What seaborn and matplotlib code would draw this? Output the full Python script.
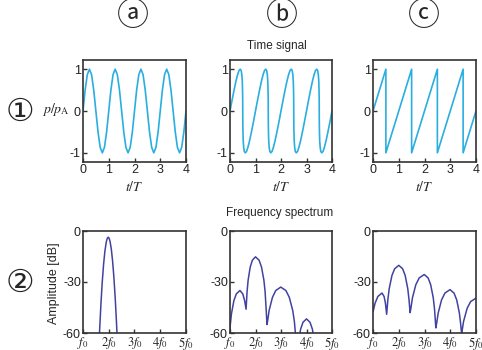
import numpy as np
import matplotlib
matplotlib.use("Agg")
import matplotlib.pyplot as plt
import seaborn as sns

# Time signals (t in periods, p/pA)
SINE_T = [0, .083, .167, .25, .333, .417, .5, .583, .667, .75, .833, .917,
          1, 1.083, 1.167, 1.25, 1.333, 1.417, 1.5, 1.583, 1.667, 1.75, 1.833, 1.917,
          2, 2.083, 2.167, 2.25, 2.333, 2.417, 2.5, 2.583, 2.667, 2.75, 2.833, 2.917,
          3, 3.083, 3.167, 3.25, 3.333, 3.417, 3.5, 3.583, 3.667, 3.75, 3.833, 3.917,
          4]
SINE_P = [0, .5, .87, 1, .87, .5, 0, -.5, -.87, -1, -.87, -.5,
          0, .5, .87, 1, .87, .5, 0, -.5, -.87, -1, -.87, -.5,
          0, .5, .87, 1, .87, .5, 0, -.5, -.87, -1, -.87, -.5,
          0, .5, .87, 1, .87, .5, 0, -.5, -.87, -1, -.87, -.5,
          0]

STEEP_T = [0, .081, .159, .232, .298, .354, .401, .438, .464, .482, .492, .498,
           .5, .502, .508, .518, .536, .562, .599, .646, .702, .768, .841, .919,
           1, 1.081, 1.159, 1.232, 1.298, 1.354, 1.401, 1.438, 1.464, 1.482, 1.492, 1.498,
           1.5, 1.502, 1.508, 1.518, 1.536, 1.562, 1.599, 1.646, 1.702, 1.768, 1.841, 1.919,
           2, 2.081, 2.159, 2.232, 2.298, 2.354, 2.401, 2.438, 2.464, 2.482, 2.492, 2.498,
           2.5, 2.502, 2.508, 2.518, 2.536, 2.562, 2.599, 2.646, 2.702, 2.768, 2.841, 2.919,
           3, 3.081, 3.159, 3.232, 3.298, 3.354, 3.401, 3.438, 3.464, 3.482, 3.492, 3.498,
           3.5, 3.502, 3.508, 3.518, 3.536, 3.562, 3.599, 3.646, 3.702, 3.768, 3.841, 3.919,
           4]
STEEP_P = [0, .26, .5, .71, .87, .97, 1, .97, .87, .71, .5, .26,
           0, -.26, -.5, -.71, -.87, -.97, -1, -.97, -.87, -.71, -.5, -.26,
           0, .26, .5, .71, .87, .97, 1, .97, .87, .71, .5, .26,
           0, -.26, -.5, -.71, -.87, -.97, -1, -.97, -.87, -.71, -.5, -.26,
           0, .26, .5, .71, .87, .97, 1, .97, .87, .71, .5, .26,
           0, -.26, -.5, -.71, -.87, -.97, -1, -.97, -.87, -.71, -.5, -.26,
           0, .26, .5, .71, .87, .97, 1, .97, .87, .71, .5, .26,
           0, -.26, -.5, -.71, -.87, -.97, -1, -.97, -.87, -.71, -.5, -.26,
           0]

SAW_T = [0, .5, .5, 1.5, 1.5, 2.5, 2.5, 3.5, 3.5, 4]
SAW_P = [0, 1, -1, 1, -1, 1, -1, 1, -1, 0]

# Spectra (f in units of f0, amplitude in dB)
SPEC_A_F = [1.60, 1.64, 1.70, 1.75, 1.80, 1.85, 1.90, 1.925, 1.95, 1.98, 2.00,
            2.025, 2.05, 2.10, 2.15, 2.20, 2.25, 2.30, 2.33, 2.36]
SPEC_A_DB = [-74, -60, -41.9, -29.5, -19.5, -11.9, -6.8, -5.2, -4.1, -3.7, -3.9,
             -4.7, -6.1, -10.7, -17.8, -27.3, -39.2, -53.6, -63.4, -73]

SPEC_B_F = [1.00, 1.01, 1.057, 1.152, 1.247, 1.39, 1.501, 1.575, 1.63,
            1.67, 1.711, 1.793, 1.876, 2.0, 2.141, 2.235, 2.329, 2.376, 2.423, 2.45,
            2.47, 2.535, 2.665, 2.795, 2.99, 3.191, 3.325, 3.459, 3.526, 3.593,
            3.678, 3.77, 3.862, 4.0, 4.138, 4.23, 4.322]
SPEC_B_DB = [-58, -55.4, -48.7, -41, -37, -35, -37, -41, -46,
             -35.6, -28.9, -21.2, -17.2, -15.2, -17.2, -21.2, -28.9, -35.6, -47.4, -55,
             -53.4, -46.7, -39, -35, -33, -35, -39, -46.7, -53.4, -65.2,
             -65.4, -57.7, -53.7, -51.7, -53.7, -57.7, -65.4]

SPEC_C_F = [1.00, 1.08, 1.188, 1.35, 1.43, 1.483, 1.53,
            1.576, 1.629, 1.735, 1.841, 2.0, 2.15, 2.25, 2.35, 2.40, 2.44,
            2.466, 2.532, 2.663, 2.794, 2.99, 3.14, 3.24, 3.34, 3.39, 3.44,
            3.466, 3.532, 3.663, 3.794, 3.99, 4.146, 4.25, 4.354, 4.406, 4.44,
            4.448, 4.517, 4.655, 4.793, 5.0]
SPEC_C_DB = [-47.6, -42.5, -38.5, -36.5, -38.5, -42.5, -49,
             -40.6, -33.9, -26.2, -22.2, -20.2, -22.2, -26.2, -33.9, -40.6, -48,
             -46, -39.3, -31.6, -27.6, -25.6, -27.6, -31.6, -39.3, -46, -57,
             -54.9, -48.2, -40.5, -36.5, -34.5, -36.5, -40.5, -48.2, -54.9, -60.5,
             -59.9, -53.2, -45.5, -41.5, -39.5]

TIME_TICKS = [0, 1, 2, 3, 4]
AMP_TICKS = [-1, 0, 1]
FREQ_TICKS = [1, 2, 3, 4, 5]
FREQ_LABELS = [r"$f_0$", r"$2f_0$", r"$3f_0$", r"$4f_0$", r"$5f_0$"]
DB_TICKS = [-60, -30, 0]

COLUMN_MARKS = ["ⓐ", "ⓑ", "ⓒ"]
ROW_MARKS = ["①", "②"]

TIME_COLOR = "#2aaee0"
SPEC_COLOR = "#4242a0"
FRAME_COLOR = "#333333"

sns.set_theme(style="ticks")
plt.rcParams["font.family"] = ["Liberation Sans", "DejaVu Sans", "Noto Sans CJK JP"]
plt.rcParams["mathtext.fontset"] = "stix"

W, H = 482, 350
fig = plt.figure(figsize=(W / 100, H / 100), dpi=100)


def px_axes(x0, x1, y0, y1):
    return fig.add_axes([x0 / W, 1 - y1 / H, (x1 - x0) / W, (y1 - y0) / H])


def style_axes(ax):
    for s in ax.spines.values():
        s.set_color(FRAME_COLOR)
        s.set_linewidth(1.2)
    ax.tick_params(direction="in", length=3, width=1, colors=FRAME_COLOR,
                   labelcolor="#222222", labelsize=9, pad=1.5)


time_data = [(SINE_T, SINE_P), (STEEP_T, STEEP_P), (SAW_T, SAW_P)]
spec_data = [(SPEC_A_F, SPEC_A_DB), (SPEC_B_F, SPEC_B_DB), (SPEC_C_F, SPEC_C_DB)]
cols = [(83, 186), (230, 332), (373, 476)]

for (x0, x1), (t, p), (f, db) in zip(cols, time_data, spec_data):
    ax = px_axes(x0, x1, 60, 162)
    sns.lineplot(x=t, y=p, ax=ax, color=TIME_COLOR, linewidth=1.2,
                 estimator=None, sort=False)
    ax.set_xlim(0, 4)
    ax.set_ylim(-1.22, 1.22)
    ax.set_xticks(TIME_TICKS)
    ax.set_yticks(AMP_TICKS)
    ax.set_xticklabels([str(v) for v in TIME_TICKS])
    ax.set_yticklabels([str(v) for v in AMP_TICKS])
    style_axes(ax)
    fig.text((x0 + x1) / 2 / W, 1 - 187 / H, r"$t/T$", ha="center", va="center",
             fontsize=10)

    ax = px_axes(x0, x1, 231, 333)
    sns.lineplot(x=f, y=db, ax=ax, color=SPEC_COLOR, linewidth=1.1,
                 estimator=None, sort=False)
    ax.set_xlim(1, 5)
    ax.set_ylim(-60, 0)
    ax.set_xticks(FREQ_TICKS)
    ax.set_yticks(DB_TICKS)
    ax.set_xticklabels(FREQ_LABELS, fontsize=11)
    ax.set_yticklabels([str(v) for v in DB_TICKS])
    style_axes(ax)

for ax in fig.axes:
    ax.set_xlabel("")
    ax.set_ylabel("")

for mark, xc in zip(COLUMN_MARKS, [133, 282, 424]):
    fig.text(xc / W, 1 - 17 / H, mark, ha="center", va="center", fontsize=23,
             family=["DejaVu Sans", "Noto Sans CJK JP"])
for mark, yc in zip(ROW_MARKS, [112, 283]):
    fig.text(20 / W, 1 - yc / H, mark, ha="center", va="center", fontsize=23,
             family=["DejaVu Sans", "Noto Sans CJK JP"])

fig.text(277 / W, 1 - 46 / H, "Time signal", ha="center", va="center", fontsize=8.5)
fig.text(280 / W, 1 - 213 / H, "Frequency spectrum", ha="center", va="center",
         fontsize=8.5)
fig.text(56 / W, 1 - 110 / H, r"$p/p_\mathrm{A}$", ha="center", va="center",
         fontsize=10)
fig.text(54 / W, 1 - 283 / H, "Amplitude [dB]", ha="center", va="center",
         rotation=90, fontsize=9)

fig.savefig("out.png", dpi=100, facecolor="white")
